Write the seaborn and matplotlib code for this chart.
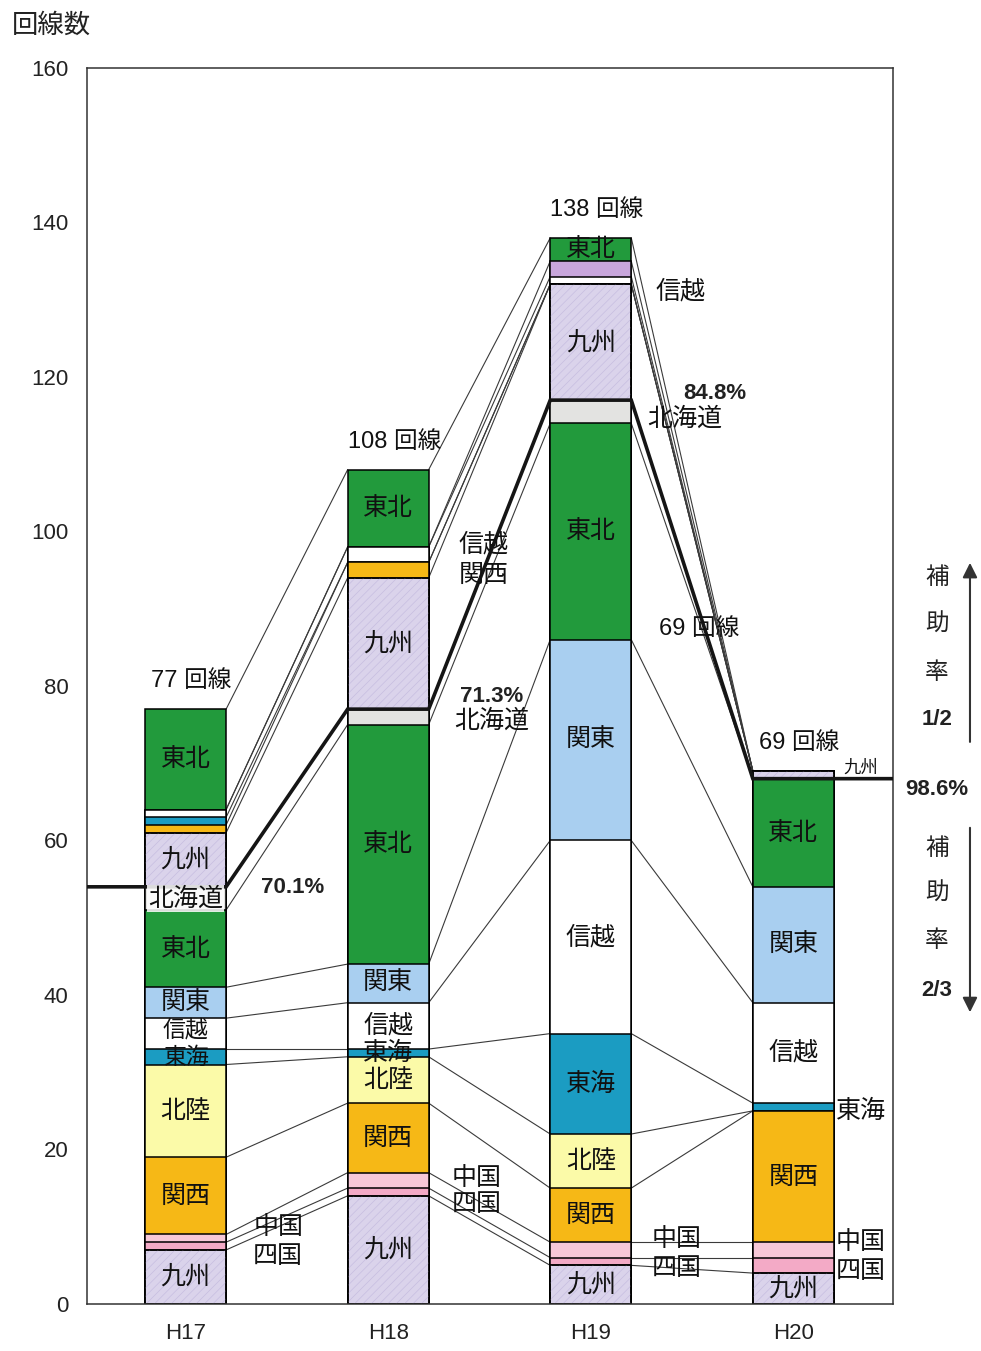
# 回線数の推移（補助率別・地域別の積み上げ棒）
import numpy as np
import pandas as pd
import seaborn as sns
import matplotlib.pyplot as plt
from matplotlib.patches import Rectangle

years = ['H17', 'H18', 'H19', 'H20']

# 補助率2/3 の回線数（下から積み上げ）
lo_kyushu = [7, 14, 5, 4]
lo_shikoku = [1, 1, 1, 2]
lo_chugoku = [1, 2, 2, 2]
lo_kansai = [10, 9, 7, 17]
lo_hokuriku = [12, 6, 7, 0]
lo_tokai = [2, 1, 13, 1]
lo_shinetsu = [4, 6, 25, 13]
lo_kanto = [4, 5, 26, 15]
lo_tohoku = [10, 31, 28, 14]
lo_hokkaido = [3, 2, 3, 0]

# 補助率1/2 の回線数（2/3 の上に積み上げ）
hi_kyushu = [7, 17, 15, 1]
hi_kansai = [1, 2, 0, 0]
hi_tokai = [1, 0, 0, 0]
hi_shinetsu = [1, 2, 1, 0]
hi_kanto = [0, 0, 2, 0]
hi_tohoku = [13, 10, 3, 0]

lower = [('九州', lo_kyushu), ('四国', lo_shikoku), ('中国', lo_chugoku),
         ('関西', lo_kansai), ('北陸', lo_hokuriku), ('東海', lo_tokai),
         ('信越', lo_shinetsu), ('関東', lo_kanto), ('東北', lo_tohoku),
         ('北海道', lo_hokkaido)]
upper = [('九州', hi_kyushu), ('関西', hi_kansai), ('東海', hi_tokai),
         ('信越', hi_shinetsu), ('関東', hi_kanto), ('東北', hi_tohoku)]

colors = {'九州': '#dad3eb', '四国': '#f3aac6', '中国': '#f7c8d8',
          '関西': '#f6b816', '北陸': '#fbfaa8', '東海': '#1b9cc2',
          '信越': '#ffffff', '関東': '#a9cff0', '東北': '#229a3c',
          '北海道': '#e3e3e1'}
upper_colors = dict(colors, 関東='#c8a6dc')

segs = [('lo', n, v) for n, v in lower] + [('hi', n, v) for n, v in upper]
vals = np.array([v for _, _, v in segs], dtype=float)
tops = np.cumsum(vals, axis=0)
bottoms = tops - vals
n_lower = len(lower)
lower_tot = tops[n_lower - 1]
total = tops[-1]

W = 0.4
LAT = ['Liberation Sans', 'Noto Sans CJK JP', 'DejaVu Sans']

sns.set_theme(style='white')
plt.rcParams['font.family'] = ['Noto Sans CJK JP', 'DejaVu Sans']
plt.rcParams['hatch.linewidth'] = 0.5

fig = plt.figure(figsize=(9.81, 13.51), dpi=100)
ax = fig.add_axes([0.0882, 0.0348, 0.8221, 0.9149])

# 積み上げ棒: 上の区分から順に 0 からの累積高さで重ね描き
for k in range(len(segs) - 1, -1, -1):
    grp, name, _ = segs[k]
    col = colors[name] if grp == 'lo' else upper_colors[name]
    d = pd.DataFrame({'年度': years, 'top': tops[k]})
    n0 = len(ax.patches)
    sns.barplot(data=d, x='年度', y='top', order=years, color=col, saturation=1,
                width=W, edgecolor='black', linewidth=1.1, errorbar=None,
                ax=ax, zorder=2)
    if name == '九州':
        bars = list(ax.patches[n0:])
        for p in bars:
            ax.add_patch(Rectangle(p.get_xy(), p.get_width(), p.get_height(),
                                   fill=False, hatch='////', edgecolor='#c6bde0',
                                   linewidth=0, zorder=2))
        # 枠線を描き直す
        for p in bars:
            ax.add_patch(Rectangle(p.get_xy(), p.get_width(), p.get_height(),
                                   fill=False, edgecolor='black', linewidth=1.1,
                                   zorder=2))

# 区分の境界を結ぶ細線
for k in range(len(segs)):
    if k == n_lower - 1:
        continue
    for i in range(len(years) - 1):
        ax.plot([i + W / 2, i + 1 - W / 2], [tops[k][i], tops[k][i + 1]],
                color='#3a3a3a', lw=0.8, zorder=1.5)

xlim = (-0.489, 3.492)
# 補助率の境界（太線）
bx = [xlim[0]]
by = [lower_tot[0]]
for i in range(len(years)):
    bx += [i - W / 2, i + W / 2]
    by += [lower_tot[i], lower_tot[i]]
bx.append(xlim[1])
by.append(lower_tot[-1])
ax.plot(bx, by, color='#151515', lw=2.6, zorder=4, solid_joinstyle='miter')

# 棒内のラベル
inner = {0: [('hi', '東北'), ('hi', '九州'), ('lo', '北海道'), ('lo', '東北'),
             ('lo', '関東'), ('lo', '信越'), ('lo', '東海'), ('lo', '北陸'),
             ('lo', '関西'), ('lo', '九州')],
         1: [('hi', '東北'), ('hi', '九州'), ('lo', '東北'), ('lo', '関東'),
             ('lo', '信越'), ('lo', '東海'), ('lo', '北陸'), ('lo', '関西'),
             ('lo', '九州')],
         2: [('hi', '東北'), ('hi', '九州'), ('lo', '東北'), ('lo', '関東'),
             ('lo', '信越'), ('lo', '東海'), ('lo', '北陸'), ('lo', '関西'),
             ('lo', '九州')],
         3: [('lo', '東北'), ('lo', '関東'), ('lo', '信越'), ('lo', '関西'),
             ('lo', '九州')]}
# 狭い区分のラベルは少しずらして小さめに
nudge = {(0, '信越'): (0.5, 16.5), (0, '東海'): (-0.1, 16.5)}
for i, items in inner.items():
    for grp, name in items:
        k = [j for j, s in enumerate(segs) if s[0] == grp and s[1] == name][0]
        mid = (bottoms[k][i] + tops[k][i]) / 2
        dy, fs = nudge.get((i, name), (0, 18))
        kw = {}
        if name == '北海道' and i == 0:
            kw['bbox'] = dict(facecolor='white', edgecolor='none', pad=0.5, alpha=0.85)
        ax.text(i, mid + dy, name, ha='center', va='center', fontsize=fs,
                color='#111111', zorder=5, **kw)

# 棒の外のラベル
outer = [(0.457, 10.0, '中国'), (0.457, 6.2, '四国'),
         (1.47, 98.3, '信越'), (1.47, 94.4, '関西'), (1.51, 75.5, '北海道'),
         (1.436, 16.3, '中国'), (1.436, 12.9, '四国'),
         (2.443, 131.1, '信越'), (2.463, 114.6, '北海道'),
         (2.424, 8.4, '中国'), (2.424, 4.7, '四国'),
         (3.334, 25.0, '東海'), (3.334, 8.0, '中国'), (3.334, 4.3, '四国')]
for x, y, s in outer:
    ax.text(x, y, s, ha='center', va='center', fontsize=18, color='#111111', zorder=5)
ax.text(3.334, 69.4, '九州', ha='center', va='center', fontsize=12.5, color='#111111', zorder=5)

# 合計回線数
for i in range(len(years)):
    ax.text(i + 0.03, total[i] + 3.6, f'{int(total[i])} 回線', ha='center',
            va='center', fontsize=17, color='#111111', zorder=5, family=LAT)
ax.text(2.537, 87.4, f'{int(total[3])} 回線', ha='center', va='center',
        fontsize=17, color='#111111', zorder=5, family=LAT)

# 補助率2/3 の割合
pct_pos = [(0.53, 53.9), (1.51, 78.6), (2.611, 117.9), (3.709, 66.6)]
for i, (x, y) in enumerate(pct_pos):
    ax.text(x, y, f'{100 * lower_tot[i] / total[i]:.1f}%', ha='center', va='center',
            fontsize=16, fontweight='bold', color='#222222', zorder=5, clip_on=False,
            family=LAT)

# 右側の補助率表示
for y, s in [(94.1, '補'), (88.0, '助'), (81.8, '率'), (75.6, '1/2'),
             (59.0, '補'), (53.2, '助'), (47.1, '率'), (40.6, '2/3')]:
    if '/' in s:
        ax.text(3.709, y, s, ha='center', va='center', fontsize=16, fontweight='bold',
                color='#222222', clip_on=False, family=LAT)
    else:
        ax.text(3.709, y, s, ha='center', va='center', fontsize=17,
                color='#222222', clip_on=False)
ax.annotate('', xy=(3.872, 96.3), xytext=(3.872, 72.4), annotation_clip=False,
            arrowprops=dict(arrowstyle='-|>', color='#333333', lw=1.5, mutation_scale=22))
ax.annotate('', xy=(3.872, 37.4), xytext=(3.872, 62.0), annotation_clip=False,
            arrowprops=dict(arrowstyle='-|>', color='#333333', lw=1.5, mutation_scale=22))

ax.set_xlim(*xlim)
ax.set_ylim(0, 160)
ax.set_yticks(range(0, 161, 20))
ax.set_xlabel('')
ax.set_ylabel('')
ax.set_xticks([0.5, 1.5, 2.5], minor=True)
ax.tick_params(axis='y', direction='out', length=5, width=1, labelsize=16,
               colors='#222222', pad=8)
ax.tick_params(axis='x', which='major', length=0, labelsize=16, pad=14, colors='#222222')
ax.tick_params(axis='x', which='minor', direction='in', length=5, width=0.8)
for lab in ax.get_xticklabels() + ax.get_yticklabels():
    lab.set_family(LAT)
for sp in ax.spines.values():
    sp.set_color('#333333')
    sp.set_linewidth(1.1)

fig.text(12 / 981, 1 - 25 / 1351, '回線数', fontsize=19, ha='left', va='center', color='#222222')

fig.savefig('out.png', dpi=100, facecolor='white')
